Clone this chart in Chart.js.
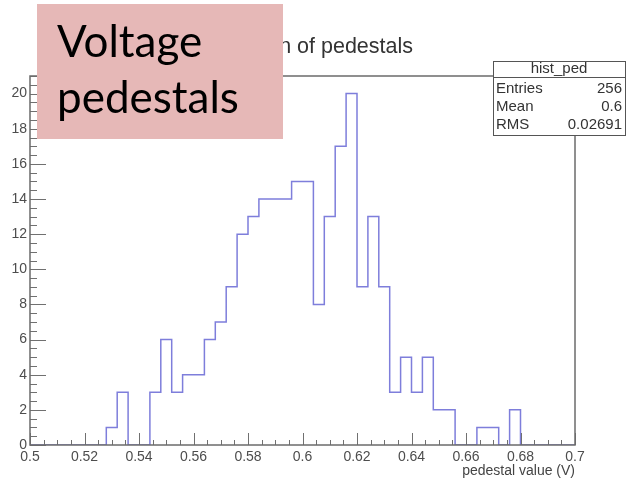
<!DOCTYPE html>
<html lang="en">
<head>
    <meta charset="UTF-8">
    <title>Voltage pedestals</title>
    <style>
        html, body {
            margin: 0;
            padding: 0;
            background-color: #fff;
        }
        #pedChart {
            display: block;
        }
    </style>
</head>
<body>
    <canvas id="pedChart" width="629" height="482"></canvas>

    <script src="https://cdn.jsdelivr.net/npm/chart.js"></script>

    <script>
        // histogram hist_ped: 50 bins between 0.5 V and 0.7 V (left edges + last right edge)
        const binEdges = [
            0.500, 0.504, 0.508, 0.512, 0.516, 0.520, 0.524, 0.528, 0.532, 0.536,
            0.540, 0.544, 0.548, 0.552, 0.556, 0.560, 0.564, 0.568, 0.572, 0.576,
            0.580, 0.584, 0.588, 0.592, 0.596, 0.600, 0.604, 0.608, 0.612, 0.616,
            0.620, 0.624, 0.628, 0.632, 0.636, 0.640, 0.644, 0.648, 0.652, 0.656,
            0.660, 0.664, 0.668, 0.672, 0.676, 0.680, 0.684, 0.688, 0.692, 0.696,
            0.700
        ];
        const binCounts = [
            0, 0, 0, 0, 0, 0, 0, 1, 3, 0,
            0, 3, 6, 3, 4, 4, 6, 7, 9, 12,
            13, 14, 14, 14, 15, 15, 8, 13, 17, 20,
            9, 13, 9, 3, 5, 3, 5, 2, 2, 0,
            0, 1, 1, 0, 2, 0, 0, 0, 0, 0
        ];

        const xTicks = [0.5, 0.52, 0.54, 0.56, 0.58, 0.6, 0.62, 0.64, 0.66, 0.68, 0.7];
        const yTicks = [0, 2, 4, 6, 8, 10, 12, 14, 16, 18, 20];

        const histName = 'hist_ped';
        const statsRows = [['Entries', '256'], ['Mean', '0.6'], ['RMS', '0.02691']];
        const plotTitle = 'Distribution of pedestals';
        const slideLabel = ['Voltage', 'pedestals'];

        // stepped line: each bin value holds from its left edge to the next edge
        const points = binEdges.map((x, i) => ({ x: x, y: i < binCounts.length ? binCounts[i] : 0 }));

        const axisFont = 'Liberation Sans, Arial, sans-serif';

        // ROOT style frame, inward ticks, stats box, title and the pink slide label
        const overlay = {
            id: 'overlay',
            afterDraw(chart) {
                const ctx = chart.ctx;
                const a = chart.chartArea;
                const xs = chart.scales.x;
                const ys = chart.scales.y;
                ctx.save();

                ctx.strokeStyle = '#707070';
                ctx.lineWidth = 1;
                ctx.beginPath();
                for (let i = 0; i <= 40; i++) {
                    const px = Math.round(xs.getPixelForValue(0.5 + i * 0.005)) + 0.5;
                    const len = i % 4 === 0 ? 12 : 5;
                    ctx.moveTo(px, a.bottom);
                    ctx.lineTo(px, a.bottom - len);
                }
                for (let i = 0; i <= 42; i++) {
                    const py = Math.round(ys.getPixelForValue(i * 0.5)) + 0.5;
                    const len = i % 4 === 0 ? 16 : 7;
                    ctx.moveTo(a.left, py);
                    ctx.lineTo(a.left + len, py);
                }
                ctx.stroke();

                // frame
                ctx.strokeStyle = '#6b6b6b';
                ctx.lineWidth = 1.5;
                ctx.strokeRect(a.left, a.top, a.right - a.left, a.bottom - a.top);

                // stats box
                const bx = 493, by = 61, bw = 132, bh = 74;
                ctx.fillStyle = '#fff';
                ctx.fillRect(bx, by, bw, bh);
                ctx.strokeStyle = '#555';
                ctx.lineWidth = 1;
                ctx.strokeRect(bx + 0.5, by + 0.5, bw, bh);
                ctx.beginPath();
                ctx.moveTo(bx, 77.5);
                ctx.lineTo(bx + bw, 77.5);
                ctx.stroke();
                ctx.fillStyle = '#333';
                ctx.font = '15px ' + axisFont;
                ctx.textBaseline = 'middle';
                ctx.textAlign = 'center';
                ctx.fillText(histName, bx + bw / 2, 69);
                statsRows.forEach((row, i) => {
                    const ty = 89 + i * 18;
                    ctx.textAlign = 'left';
                    ctx.fillText(row[0], bx + 3, ty);
                    ctx.textAlign = 'right';
                    ctx.fillText(row[1], bx + bw - 3, ty);
                });

                // histogram title
                ctx.font = '21.5px ' + axisFont;
                ctx.textAlign = 'right';
                ctx.textBaseline = 'alphabetic';
                ctx.fillStyle = '#333';
                ctx.fillText(plotTitle, 413, 53);

                // pink label from the slide
                ctx.fillStyle = '#e6b8b7';
                ctx.fillRect(37, 4, 246, 135);
                ctx.fillStyle = '#000';
                ctx.font = '44px Lato, "Open Sans", sans-serif';
                ctx.textAlign = 'left';
                ctx.fillText(slideLabel[0], 57, 57);
                ctx.fillText(slideLabel[1], 57, 113);

                ctx.restore();
            }
        };

        window.onload = function() {
            const ctx = document.getElementById('pedChart').getContext('2d');
            new Chart(ctx, {
                type: 'line',
                data: {
                    datasets: [{
                        label: histName,
                        data: points,
                        stepped: 'before',
                        borderColor: '#7e7edb',
                        borderWidth: 1.5,
                        pointRadius: 0,
                        fill: false
                    }]
                },
                options: {
                    responsive: false,
                    animation: false,
                    layout: { padding: { top: 76, right: 54, left: 0, bottom: 0 } },
                    plugins: {
                        legend: { display: false },
                        title: { display: false },
                        tooltip: { enabled: false }
                    },
                    scales: {
                        x: {
                            type: 'linear',
                            min: 0.5,
                            max: 0.7,
                            afterFit: function(scale) { scale.height = 37; },
                            afterBuildTicks: function(scale) {
                                scale.ticks = xTicks.map(v => ({ value: v }));
                            },
                            grid: { display: false, drawTicks: false },
                            border: { display: false },
                            ticks: {
                                padding: 4,
                                maxRotation: 0,
                                autoSkip: false,
                                color: '#4d4d4d',
                                font: { family: axisFont, size: 14 },
                                callback: function(value) { return String(value); }
                            },
                            title: {
                                display: true,
                                text: 'pedestal value (V)',
                                align: 'end',
                                color: '#444',
                                font: { family: axisFont, size: 14 },
                                padding: { top: 0, bottom: 2 }
                            }
                        },
                        y: {
                            min: 0,
                            max: 21,
                            afterFit: function(scale) { scale.width = 30; },
                            afterBuildTicks: function(scale) {
                                scale.ticks = yTicks.map(v => ({ value: v }));
                            },
                            grid: { display: false, drawTicks: false },
                            border: { display: false },
                            ticks: {
                                padding: 3,
                                color: '#4d4d4d',
                                font: { family: axisFont, size: 14 },
                                callback: function(value) { return String(value); }
                            }
                        }
                    }
                },
                plugins: [overlay]
            });
        };
    </script>
</body>
</html>
